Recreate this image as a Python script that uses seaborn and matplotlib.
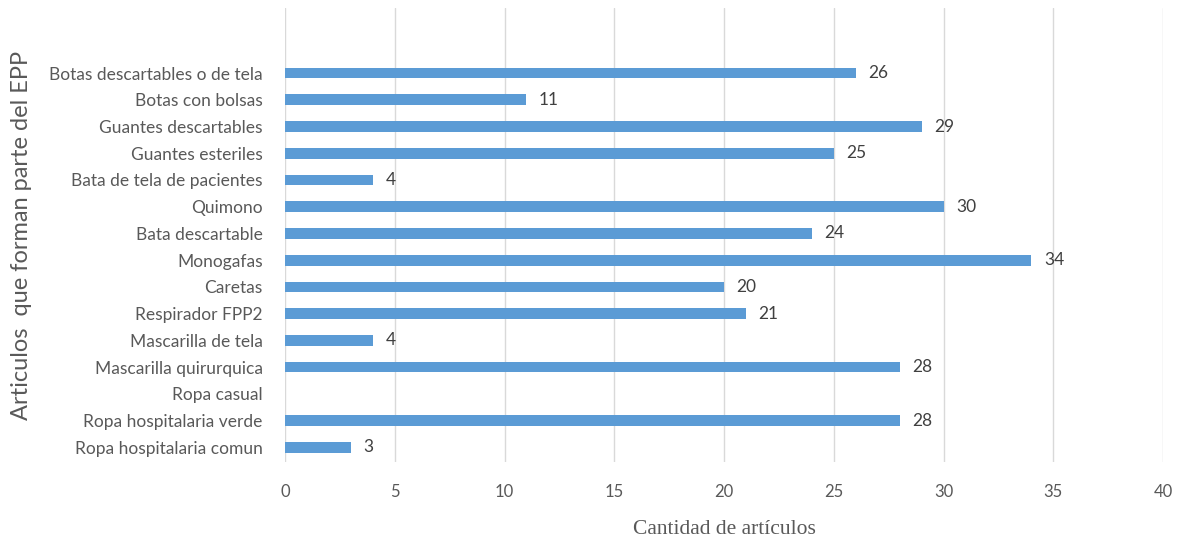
import matplotlib
matplotlib.use("Agg")
import matplotlib.pyplot as plt
import seaborn as sns
import pandas as pd

categories = [
    "Botas descartables o de tela",
    "Botas con bolsas",
    "Guantes descartables",
    "Guantes esteriles",
    "Bata de tela de pacientes",
    "Quimono",
    "Bata descartable",
    "Monogafas",
    "Caretas",
    "Respirador FPP2",
    "Mascarilla de tela",
    "Mascarilla quirurquica",
    "Ropa casual",
    "Ropa hospitalaria verde",
    "Ropa hospitalaria comun",
]
counts = [26, 11, 29, 25, 4, 30, 24, 34, 20, 21, 4, 28, 0, 28, 3]
x_ticks = [0, 5, 10, 15, 20, 25, 30, 35, 40]

sns.set_theme(style="white")
plt.rcParams["font.family"] = ["Lato", "DejaVu Sans"]

df = pd.DataFrame({"articulo": categories, "cantidad": counts})

fig = plt.figure(figsize=(11.82, 5.41), dpi=100)
ax = fig.add_axes([0.2411, 0.146, 0.9840 - 0.2411, 0.839])

sns.barplot(data=df, y="articulo", x="cantidad", order=categories,
            color="#5B9BD5", saturation=1, width=0.4, orient="h", ax=ax,
            linewidth=0, zorder=3)

text_color = "#595959"
ax.set_xlim(0, 40)
ax.set_xticks(x_ticks)
ax.set_ylim(14.55, -2.43)
ax.xaxis.grid(True, color="#D9D9D9", linewidth=1, zorder=0)
ax.set_axisbelow(True)
for s in ax.spines.values():
    s.set_visible(False)
ax.tick_params(axis="both", length=0, colors=text_color)
ax.tick_params(axis="x", pad=16, labelsize=12)
ax.tick_params(axis="y", pad=16, labelsize=12.5)

labels = [str(v) if v else "" for v in counts]
ax.bar_label(ax.containers[0], labels=labels, padding=9, fontsize=12.5,
             color="#404040")

ax.set_xlabel("Cantidad de artículos", family="Liberation Serif",
              fontsize=15.5, color=text_color, labelpad=14)
ax.set_ylabel("Articulos  que forman parte del EPP", fontsize=17,
              color=text_color, labelpad=12)

fig.savefig("out.png", dpi=100, facecolor="white")
